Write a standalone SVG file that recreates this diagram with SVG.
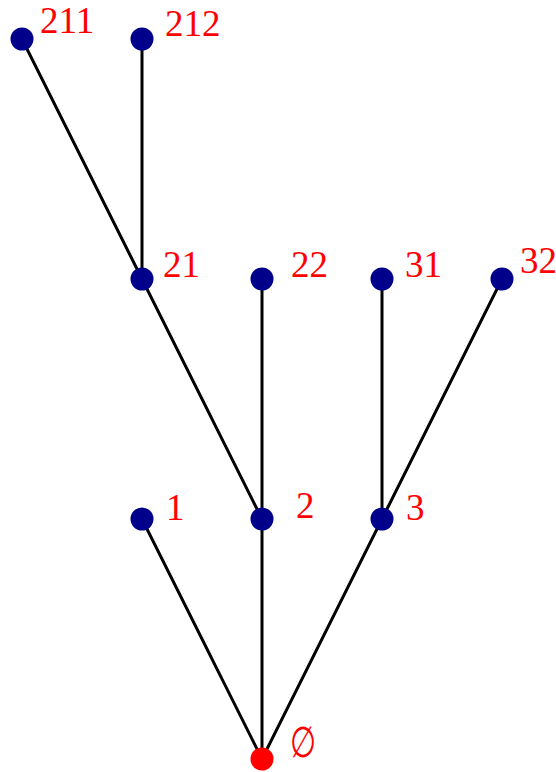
<svg xmlns="http://www.w3.org/2000/svg" width="556" height="772" viewBox="0 0 556 772">
<style>
.e{stroke:#000;stroke-width:3;fill:none}
.n{fill:#00008b}
.r{fill:#ff0000}
.t{fill:#ff0000;font-family:"Liberation Serif","DejaVu Serif",serif;font-size:37px}
</style>
<rect width="556" height="772" fill="#fff"/>
<g id="edges">
<line class="e" x1="262" y1="759" x2="142" y2="519"/>
<line class="e" x1="262" y1="759" x2="262" y2="519"/>
<line class="e" x1="262" y1="759" x2="382" y2="519"/>
<line class="e" x1="262" y1="519" x2="142" y2="279"/>
<line class="e" x1="262" y1="519" x2="262" y2="279"/>
<line class="e" x1="382" y1="519" x2="382" y2="279"/>
<line class="e" x1="382" y1="519" x2="502" y2="279"/>
<line class="e" x1="142" y1="279" x2="22" y2="39"/>
<line class="e" x1="142" y1="279" x2="142" y2="39"/>
</g>
<g id="n_empty"><circle class="r" cx="262" cy="759" r="11.5"/><text class="t" x="290" y="757" transform="translate(290 757) scale(0.8 1.15) translate(-290 -757)">∅</text></g>
<g id="n1"><circle class="n" cx="142" cy="519" r="11.5"/><text class="t" x="166" y="520">1</text></g>
<g id="n2"><circle class="n" cx="262" cy="519" r="11.5"/><text class="t" x="296" y="518">2</text></g>
<g id="n3"><circle class="n" cx="382" cy="519" r="11.5"/><text class="t" x="406" y="520">3</text></g>
<g id="n21"><circle class="n" cx="142" cy="279" r="11.5"/><text class="t" x="163" y="277">21</text></g>
<g id="n22"><circle class="n" cx="262" cy="279" r="11.5"/><text class="t" x="291" y="277">22</text></g>
<g id="n31"><circle class="n" cx="382" cy="279" r="11.5"/><text class="t" x="405" y="277">31</text></g>
<g id="n32"><circle class="n" cx="502" cy="279" r="11.5"/><text class="t" x="520" y="273">32</text></g>
<g id="n211"><circle class="n" cx="22" cy="39" r="11.5"/><text class="t" x="40" y="33">211</text></g>
<g id="n212"><circle class="n" cx="142" cy="39" r="11.5"/><text class="t" x="165" y="36">212</text></g>
</svg>
